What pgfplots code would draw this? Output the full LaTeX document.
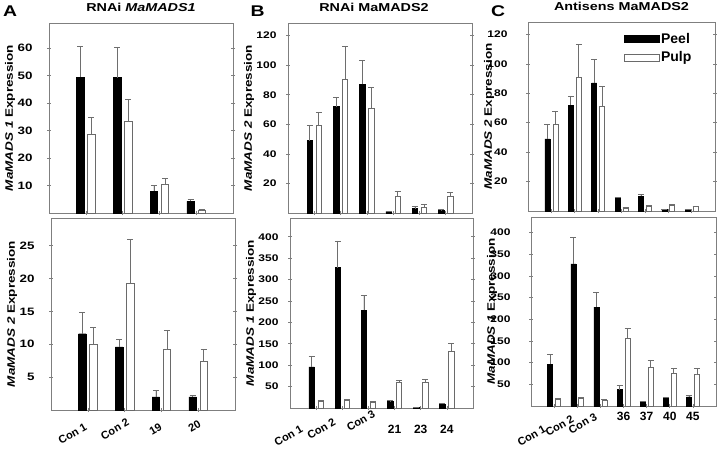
\documentclass[border=0pt]{standalone}
\usepackage{fontspec}
\setmainfont{Liberation Sans}
\newfontfamily\widefont{Liberation Sans}[FakeStretch=1.25]
\usepackage{pgfplots}
\usepackage{pgfplotstable}
\pgfplotsset{compat=1.18}
\definecolor{framec}{HTML}{7F7F7F}
\definecolor{errc}{HTML}{6E6E6E}
\definecolor{pulpc}{HTML}{6A6A6A}

\pgfplotstableread{
x peel pe pulp qe
0 49.5 11.1 28.8 5.9
1 49.3 11.1 33.2 8.2
2 8.0 2.0 10.3 2.2
3 4.2 0.8 1.0 0.3
}\dataAtop
\pgfplotstableread{
x peel pe pulp qe
0 11.6 3.2 10.0 2.5
1 9.6 1.1 19.2 6.7
2 2.0 1.0 9.2 2.9
3 2.0 0.2 7.4 1.9
}\dataAbot
\pgfplotstableread{
x peel pe pulp qe
0 49 10 59 9
1 72 6 90.5 22.5
2 87 16 71 14
3 1 0.3 11 3.5
4 3 1.5 4 2
5 2 0.3 11 3
}\dataBtop
\pgfplotstableread{
x peel pe pulp qe
0 96 24 15 2
1 328 62 18 2
2 228 34 13 3
3 15 2 60 4
4 1 0.5 60 8
5 9 2 133 19
}\dataBbot
\pgfplotstableread{
x peel pe pulp qe
0 49 10 59 9
1 72 6 90.5 22.5
2 87 16 71 14
3 9 0.5 2 0.5
4 10 1.5 3 0.5
5 1 0.2 4 0.5
6 1 0.2 3 0.3
}\dataCtop
\pgfplotstableread{
x peel pe pulp qe
0 96 24 16 2
1 328 62 18 3
2 228 34 12 3
3 38 10 157 23
4 10 1 89 17
5 19 1 76 10
6 21 4 72 16
}\dataCbot

\pgfplotsset{
  panel/.style={
    scale only axis, anchor=south west, ybar, ymin=0,
    enlargelimits=false,
    axis line style={draw=framec, line width=0.8pt},
    tick style={draw=framec, line width=0.6pt},
    major tick length=4pt,
    tick align=center,
    xtick pos=left, ytick pos=both,
    yticklabel style={font=\widefont\fontsize{9.6}{11}\selectfont\bfseries, xshift=-6pt},
    /pgf/number format/assume math mode=true,
    ylabel style={font=\widefont\fontsize{10.8}{13}\selectfont\bfseries, at={(axis description cs:0,0.5)}, anchor=center, yshift=39pt},
    title style={font=\widefont\fontsize{11.5}{13}\selectfont\bfseries, yshift=2pt},
  },
  conlab/.style 2 args={xticklabel style={font=\fontsize{11}{13}\selectfont\bfseries, inner sep=0pt, xshift=#1, yshift=#2, rotate=30, anchor=base east}},
  numlab/.style={xticklabel style={font=\fontsize{12}{14}\selectfont\bfseries, inner sep=0pt, anchor=center, yshift=#1}},
  errs/.style={
    /pgfplots/error bars/.cd, y dir=plus, y explicit,
    error bar style={draw=errc, line width=0.7pt},
    error mark options={rotate=90, draw=errc, mark size=3pt, line width=0.7pt},
    /pgfplots/.cd,
  },
  peelA/.style={fill=black, draw=black, bar width=7.5pt, bar shift=-5.5pt},
  pulpA/.style={fill=white, draw=pulpc, line width=0.7pt, bar width=7.5pt, bar shift=5.5pt},
  peelB/.style={fill=black, draw=black, bar width=5.5pt, bar shift=-4.5pt},
  pulpB/.style={fill=white, draw=pulpc, line width=0.7pt, bar width=5.5pt, bar shift=4.5pt},
  peelC/.style={fill=black, draw=black, bar width=5pt, bar shift=-4pt},
  pulpC/.style={fill=white, draw=pulpc, line width=0.7pt, bar width=5pt, bar shift=4pt},
  myleg/.style={/pgfplots/legend image code/.code={\draw[##1, bar shift=0pt] (0pt,-3.5pt) rectangle (35pt,3.5pt);}},
}

\begin{document}
\begin{tikzpicture}[x=1pt,y=1pt]
\useasboundingbox (0pt,0pt) rectangle (717pt,448pt);

% ---------- A top ----------
\begin{axis}[panel, at={(49pt,235pt)}, width=184pt, height=190pt,
  xmin=-1, xmax=4, ymax=69.2,
  xtick={0,1,2,3}, xticklabels={},
  ytick={10,20,30,40,50,60},
  yticklabel style={font=\widefont\fontsize{10.7}{12}\selectfont\bfseries, xshift=-5pt},
  ylabel={\textit{MaMADS 1} Expression},
  title={RNAi \textit{MaMADS1}}]
\addplot[peelA, errs] table[x=x, y=peel, y error=pe] {\dataAtop};
\addplot[pulpA, errs] table[x=x, y=pulp, y error=qe] {\dataAtop};
\end{axis}

% ---------- A bottom ----------
\begin{axis}[panel, at={(51pt,38pt)}, width=184pt, height=192pt,
  xmin=-1, xmax=4, ymax=29.2,
  xtick={0,1,2,3}, xticklabels={},
  extra x ticks={0,1.22,2.04,3.15},
  extra x tick labels={Con 1,\raisebox{5pt}{Con 2},19,\raisebox{3.5pt}{20}},
  extra x tick style={tick style={draw=none}, conlab={0pt}{-17pt}},
  ytick={5,10,15,20,25},
  yticklabel style={font=\widefont\fontsize{10.7}{12}\selectfont\bfseries, xshift=-5pt},
  ylabel={\textit{MaMADS 2} Expression}]
\addplot[peelA, errs] table[x=x, y=peel, y error=pe] {\dataAbot};
\addplot[pulpA, errs] table[x=x, y=pulp, y error=qe] {\dataAbot};
\end{axis}

% ---------- B top ----------
\begin{axis}[panel, at={(288pt,235pt)}, width=184pt, height=190pt,
  xmin=-1, xmax=6, ymax=128.5,
  xtick={0,1,2,3,4,5}, xticklabels={},
  ytick={20,40,60,80,100,120},
  ylabel={\textit{MaMADS 2} Expression},
  title={RNAi MaMADS2}, title style={xshift=-6pt}]
\addplot[peelB, errs] table[x=x, y=peel, y error=pe] {\dataBtop};
\addplot[pulpB, errs] table[x=x, y=pulp, y error=qe] {\dataBtop};
\end{axis}

% ---------- B bottom ----------
\begin{axis}[panel, at={(290pt,40pt)}, width=183pt, height=190pt,
  xmin=-1, xmax=6, ymax=443.7,
  xtick={0,1,2,3,4,5}, xticklabels={,,,21,23,24},
  numlab={-19pt},
  extra x ticks={-0.47,0.94,2.62},
  extra x tick labels={Con 1,\raisebox{8pt}{Con 2},\raisebox{17pt}{Con 3}},
  extra x tick style={tick style={draw=none}, conlab={0pt}{-2pt}},
  ytick={50,100,150,200,250,300,350,400},
  ylabel={\textit{MaMADS 1} Expression}]
\addplot[peelB, errs] table[x=x, y=peel, y error=pe] {\dataBbot};
\addplot[pulpB, errs] table[x=x, y=pulp, y error=qe] {\dataBbot};
\end{axis}

% ---------- C top ----------
\begin{axis}[panel, at={(528pt,237pt)}, width=187pt, height=189pt,
  xmin=-1, xmax=7, ymax=128.4,
  xtick={0,1,2,3,4,5,6}, xticklabels={},
  ytick={20,40,60,80,100,120},
  yticklabel style={xshift=-9pt},
  ylabel={\textit{MaMADS 2} Expression},
  title={Antisens MaMADS2},
  legend style={at={(0.883,0.95)}, anchor=north east, draw=none, fill=none, inner sep=0pt,
    nodes={inner sep=1.5pt},
    font=\fontsize{14}{16}\selectfont\bfseries, row sep=4pt},
  legend cell align=left]
\addplot[peelC, myleg, errs] table[x=x, y=peel, y error=pe] {\dataCtop};
\addlegendentry{Peel}
\addplot[pulpC, myleg, errs] table[x=x, y=pulp, y error=qe] {\dataCtop};
\addlegendentry{Pulp}
\end{axis}

% ---------- C bottom ----------
\begin{axis}[panel, at={(531pt,42pt)}, width=185pt, height=189pt,
  xmin=-1, xmax=7, ymax=436.2,
  xtick={0,1,2,3,4,5,6}, xticklabels={,,,36,37,40,45},
  numlab={-8pt},
  extra x ticks={-0.31,1.15,2.2},
  extra x tick labels={Con 1,\raisebox{11.5pt}{Con 2},\raisebox{14pt}{Con 3}},
  extra x tick style={tick style={draw=none}, conlab={0pt}{-15pt}},
  ytick={50,100,150,200,250,300,350,400},
  yticklabel style={xshift=-9pt},
  ylabel={\textit{MaMADS 1} Expression}]
\addplot[peelC, errs] table[x=x, y=peel, y error=pe] {\dataCbot};
\addplot[pulpC, errs] table[x=x, y=pulp, y error=qe] {\dataCbot};
\end{axis}

% panel letters
\node[font=\widefont\fontsize{15.5}{18}\selectfont\bfseries] at (10pt,436.5pt) {A};
\node[font=\widefont\fontsize{15.5}{18}\selectfont\bfseries] at (257.5pt,437pt) {B};
\node[font=\widefont\fontsize{15.5}{18}\selectfont\bfseries] at (498pt,437pt) {C};
\end{tikzpicture}
\end{document}
